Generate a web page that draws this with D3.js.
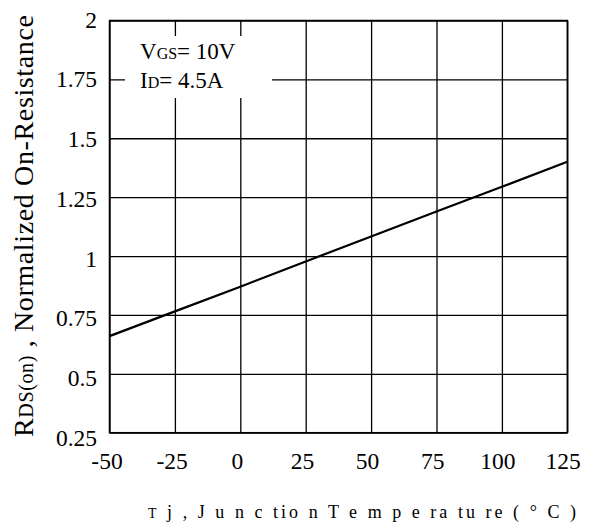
<!DOCTYPE html>
<html>
<head>
<meta charset="utf-8">
<script src="https://cdn.jsdelivr.net/npm/d3@7"></script>
<style>
  html, body { margin: 0; padding: 0; background: #fff; }
  svg { display: block; font-family: "Liberation Serif", "Times New Roman", serif; }
  svg text { font-family: "Liberation Serif", "Times New Roman", serif; }
</style>
</head>
<body>
<svg id="chart" width="595" height="526"></svg>
<script>
// Junction temperature (°C) and normalized on-resistance
const temps = [-50, -25, 0, 25, 50, 75, 100, 125];
const rdsNorm = [0.66, 0.765, 0.87, 0.977, 1.083, 1.189, 1.294, 1.40];

const xTicks = [-50, -25, 0, 25, 50, 75, 100, 125];
const yTicks = [0.25, 0.5, 0.75, 1, 1.25, 1.5, 1.75, 2];
const yTickLabels = ["0.25", "0.5", "0.75", "1", "1.25", "1.5", "1.75", "2"];

const svg = d3.select("#chart");
const plotL = 109.5, plotR = 567.3, plotT = 20.5, plotB = 432.7;

const x = d3.scaleLinear().domain([-50, 125]).range([plotL, plotR]);
const y = d3.scaleLinear().domain([0.25, 2]).range([plotB, plotT]);
// label placement scales (labels sit slightly offset from the grid)
const xLab = d3.scaleLinear().domain([-50, 125]).range([106.5, 562.5]);
const yLab = d3.scaleLinear().domain([0.25, 2]).range([plotB + 4.5, plotT - 1.5]);

// grid lines
const gx = svg.append("g")
  .attr("transform", `translate(0,${plotB})`)
  .call(d3.axisBottom(x).tickValues(xTicks).tickSize(-(plotB - plotT)).tickFormat(""));
const gy = svg.append("g")
  .attr("transform", `translate(${plotL},0)`)
  .call(d3.axisLeft(y).tickValues(yTicks).tickSize(-(plotR - plotL)).tickFormat(""));
[gx, gy].forEach(g => {
  g.select(".domain").remove();
  g.selectAll(".tick line").attr("stroke", "#000").attr("stroke-width", 1.3);
});

// frame
svg.append("rect")
  .attr("x", plotL).attr("y", plotT)
  .attr("width", plotR - plotL).attr("height", plotB - plotT)
  .attr("fill", "none").attr("stroke", "#000").attr("stroke-width", 1.5);

// legend background blanks the grid behind the conditions text
svg.append("rect")
  .attr("x", 125).attr("y", 36).attr("width", 147).attr("height", 62)
  .attr("fill", "#fff");

// tick labels
const xl = svg.append("g")
  .attr("transform", `translate(0,${plotB})`)
  .call(d3.axisBottom(xLab).tickValues(xTicks).tickSize(0).tickPadding(0)
        .tickFormat(d => d < 0 ? "-" + Math.abs(d) : String(d)));
xl.select(".domain").remove();
xl.attr("font-family", null).attr("font-size", null);
xl.selectAll("text")
  .attr("font-size", 23.5)
  .attr("fill", "#000").attr("dy", null).attr("y", 36.5);

const yl = svg.append("g")
  .attr("transform", `translate(97,0)`)
  .call(d3.axisLeft(yLab).tickValues(yTicks).tickSize(0).tickPadding(0)
        .tickFormat((d, i) => yTickLabels[i]));
yl.select(".domain").remove();
yl.attr("font-family", null).attr("font-size", null);
yl.selectAll("text")
  .attr("font-size", 23.5)
  .attr("fill", "#000").attr("dy", "0.35em");

// data curve
svg.append("path")
  .datum(temps.map((t, i) => [t, rdsNorm[i]]))
  .attr("fill", "none").attr("stroke", "#000").attr("stroke-width", 2.2)
  .attr("d", d3.line().x(d => x(d[0])).y(d => y(d[1])));

// conditions text
const t1 = svg.append("text").attr("x", 140).attr("y", 59).attr("font-size", 23).attr("fill", "#000");
t1.append("tspan").text("V");
t1.append("tspan").attr("font-size", 16).text("GS");
t1.append("tspan").text("= 10V");
const t2 = svg.append("text").attr("x", 140).attr("y", 88).attr("font-size", 23).attr("fill", "#000");
t2.append("tspan").text("I");
t2.append("tspan").attr("font-size", 16).text("D");
t2.append("tspan").text("= 4.5A");

// x axis title
const xt = svg.append("text")
  .attr("x", 148).attr("y", 518).attr("font-size", 18).attr("fill", "#000")
  .attr("textLength", 428).attr("lengthAdjust", "spacing");
xt.append("tspan").attr("font-size", 14).text("T");
xt.append("tspan").text(" j , J u n c tio n T e m p e ra tu re ( ° C )");

// y axis title
const yt = svg.append("text")
  .attr("transform", "translate(33,437) rotate(-90)")
  .attr("font-size", 28).attr("fill", "#000")
  .attr("textLength", 422).attr("lengthAdjust", "spacing");
yt.append("tspan").text("R");
yt.append("tspan").attr("font-size", 20).text("DS(on)");
yt.append("tspan").text(" , Normalized On-Resistance");
</script>
</body>
</html>
